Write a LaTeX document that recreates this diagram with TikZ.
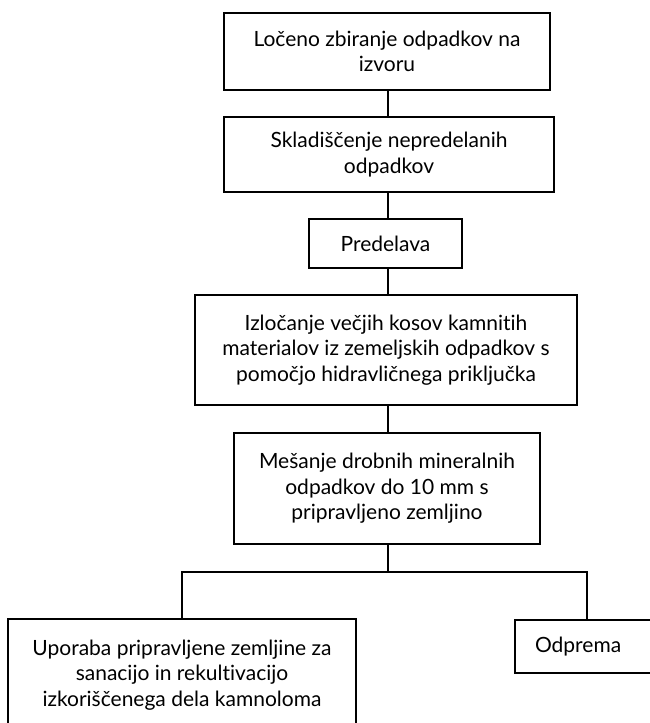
\documentclass[tikz,border=0pt]{standalone}
\usepackage{fontspec}
\setmainfont{Lato}[Ligatures={NoCommon}]
\begin{document}
\begin{tikzpicture}[x=1pt,y=-1pt,
  stepbox/.style={draw, line width=1.8pt, inner sep=0pt, align=center,
    font=\fontsize{21}{25.5}\selectfont},
  link/.style={line width=1.8pt}]
\useasboundingbox (0,0) rectangle (650,723);
\clip (0,0) rectangle (650,723);

% process boxes, placed by centre and size
\node[stepbox, minimum width=326, minimum height=77] (collect) at (387,51.5)
  {Ločeno zbiranje odpadkov na\\izvoru};
\node[stepbox, minimum width=330, minimum height=75] (store) at (389,154.5)
  {Skladiščenje nepredelanih\\odpadkov};
\node[stepbox, minimum width=153, minimum height=49] (process) at (385.5,243.5)
  {Predelava};
\node[stepbox, minimum width=382, minimum height=110] (sort) at (386,350)
  {Izločanje večjih kosov kamnitih\\materialov iz zemeljskih odpadkov s\\pomočjo hidravličnega priključka};
\node[stepbox, minimum width=306, minimum height=111] (mix) at (387,488.5)
  {Mešanje drobnih mineralnih\\odpadkov do 10 mm s\\pripravljeno zemljino};
\node[stepbox, minimum width=348, minimum height=112] (reuse) at (182,675)
  {Uporaba pripravljene zemljine za\\sanacijo in rekultivacijo\\izkoriščenega dela kamnoloma};
\node[stepbox, minimum width=144, minimum height=53, text width=144, align=left] (ship) at (587,646.5)
  {\hspace*{20pt}Odprema};

% split point below the mixing step
\coordinate (split) at (388,572);

% connectors
\draw[link] (collect.south -| split) -- (store.north -| split);
\draw[link] (store.south -| split) -- (process.north -| split);
\draw[link] (process.south -| split) -- (sort.north -| split);
\draw[link] (sort.south -| split) -- (mix.north -| split);
\draw[link] (mix.south -| split) -- (split);
\draw[link] (reuse.north) |- (split) -| (ship.north);
\end{tikzpicture}
\end{document}
